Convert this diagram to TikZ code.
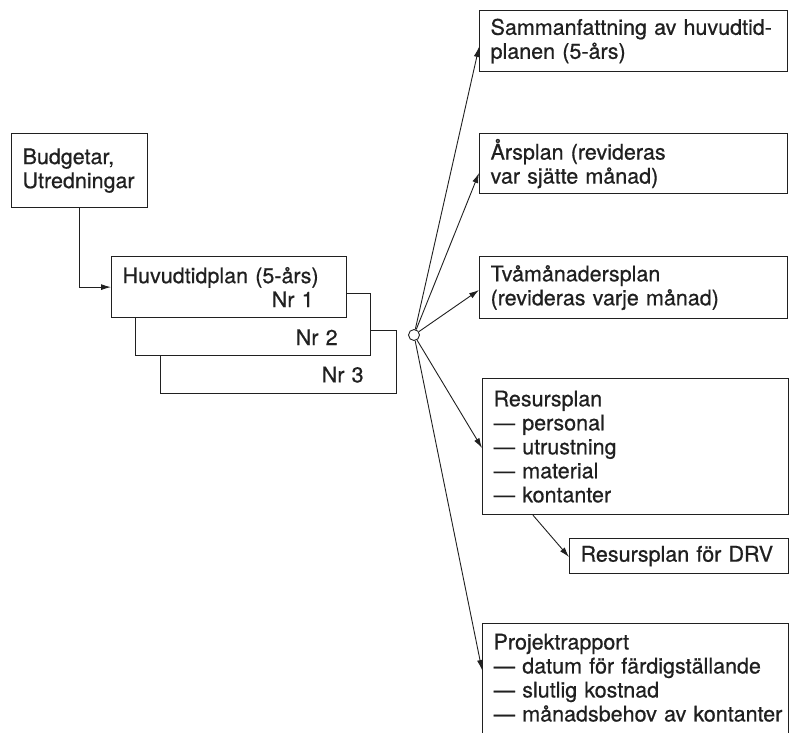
\documentclass[tikz,border=0pt]{standalone}
\usepackage{fontspec}
\setmainfont{TeX Gyre Heros}[FakeBold=0.6]
\usetikzlibrary{arrows.meta,calc}
\definecolor{ink}{HTML}{202020}
\begin{document}
\begin{tikzpicture}[x=1pt,y=-1pt,
  every node/.style={font=\fontsize{21.5}{24}\selectfont, text=ink},
  box/.style={draw=ink, line width=1.2pt, fill=white, anchor=north west,
    align=left, inner xsep=11pt, inner ysep=0pt},
  arr/.style={draw=ink, line width=0.9pt, -{Latex[length=10pt,width=6pt]}},
  hub/.style={circle, draw=ink, line width=0.9pt, fill=white, minimum size=11pt, inner sep=0pt},
]
\useasboundingbox (0,0) rectangle (791,732);
\clip (0,0) rectangle (791,732);
\fill[white] (0,0) rectangle (791,732);

% left part
\node[box, text width=114pt, minimum height=74pt] (bud) at (11,133) {Budgetar,\\Utredningar};
\node[box, text width=214pt, minimum height=63pt] (h3) at (160,330)
  {\strut\\\hspace*{\fill}Nr~3\hspace*{22pt}};
\node[box, text width=213pt, minimum height=62pt] (h2) at (135,293)
  {\strut\\\hspace*{\fill}Nr~2\hspace*{22pt}};
\node[box, text width=213pt, minimum height=61pt] (h1) at (111,256)
  {Huvudtidplan (5-års)\\\hspace*{\fill}Nr~1\hspace*{22pt}};

\draw[arr] (bud.south) |- (h1.west);

% hub
\node[hub] (c) at (414,335) {};

% right part
\node[box, text width=286pt, minimum height=61pt] (A) at (479,10)
  {\mbox{Sammanfattning av huvudtid-}\\planen (5-års)};
\node[box, text width=286pt, minimum height=60pt] (B) at (479,133)
  {Årsplan (revideras\\var sjätte månad)};
\node[box, text width=286pt, minimum height=62pt] (C) at (479,256)
  {Tvåmånadersplan\\(revideras varje månad)};
\node[box, text width=284pt, minimum height=136pt] (D) at (482,378)
  {Resursplan\\—~personal\\—~utrustning\\—~material\\—~kontanter};
\node[box, text width=197pt, minimum height=35pt] (E) at (569,538)
  {\mbox{Resursplan för DRV}};
\node[box, text width=284pt, minimum height=128pt] (F) at (482,623)
  {\mbox{Projektrapport}\\\mbox{—~datum för färdigställande}\\\mbox{—~slutlig kostnad}\\\mbox{—~månadsbehov av kontanter}\rule[-20pt]{0pt}{0pt}};

\draw[arr] (c) -- ($(A.north west)+(0,37)$);
\draw[arr] (c) -- ($(B.north west)+(0,40)$);
\draw[arr] (c) -- ($(C.north west)+(0,34)$);
\draw[arr] (c) -- ($(D.north west)+(0,70)$);
\draw[arr] (c) -- ($(F.north west)+(0,47)$);
\draw[arr] ($(D.south west)+(51,0)$) -- ($(E.north west)+(0,19)$);
\end{tikzpicture}
\end{document}
